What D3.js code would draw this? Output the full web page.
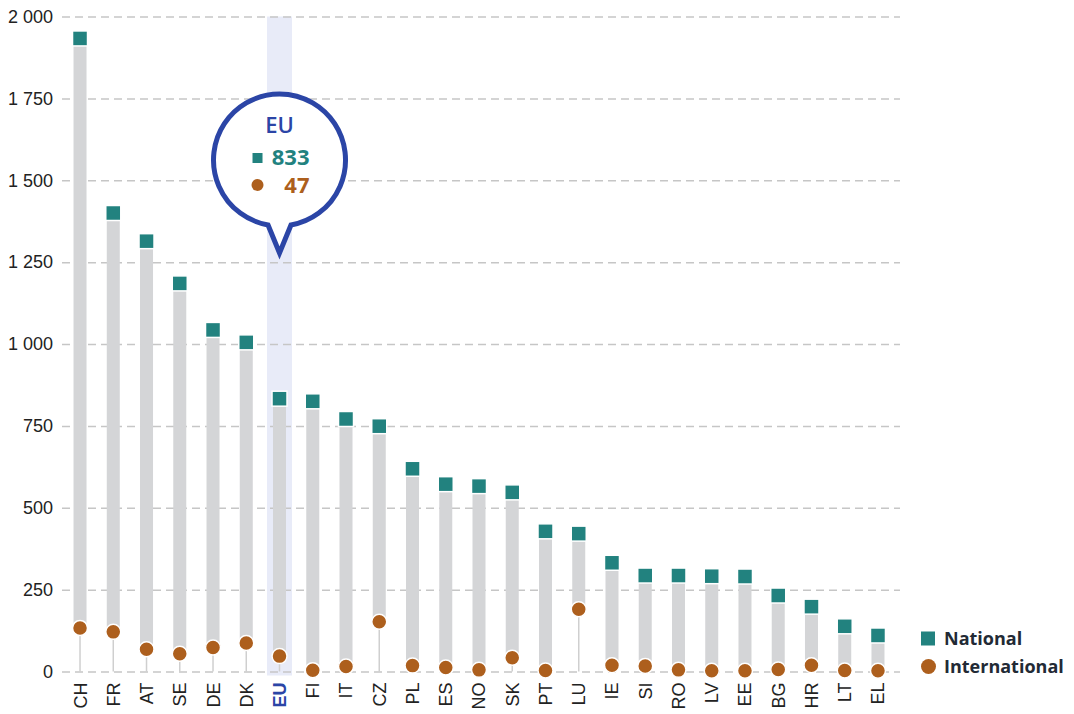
<!DOCTYPE html>
<html>
<head>
<meta charset="utf-8">
<script src="https://cdn.jsdelivr.net/npm/d3@7"></script>
<style>
  body { margin: 0; background: #fff; }
  svg { display: block; font-family: "Open Sans", "Noto Sans", sans-serif; }
</style>
</head>
<body>
<div id="chart"></div>
<script>
var countries = ["CH", "FR", "AT", "SE", "DE", "DK", "EU", "FI", "IT", "CZ", "PL", "ES", "NO",
    "SK", "PT", "LU", "IE", "SI", "RO", "LV", "EE", "BG", "HR", "LT", "EL"];
var national = [1933, 1400, 1314, 1185, 1043, 1005, 833, 825, 771, 749, 619, 572, 566,
    547, 428, 421, 332, 293, 293, 291, 290, 232, 198, 138, 110];
var international = [133, 121, 68, 54, 73, 87, 47, 4, 15, 152, 18, 12, 5,
    42, 3, 190, 19, 17, 5, 2, 2, 6, 19, 3, 2];
var yTicks = [0, 250, 500, 750, 1000, 1250, 1500, 1750, 2000];
var legendLabels = ["National", "International"];
var highlight = "EU";

var data = countries.map(function(c, i) {
    return { country: c, nat: national[i], intl: international[i] };
});

var W = 1074, H = 714;
var plotLeft = 62, plotRight = 900;

var svg = d3.select("#chart").append("svg")
    .attr("width", W)
    .attr("height", H);

var x = d3.scaleBand()
    .domain(countries)
    .range([63.4, 894.6]);

var y = d3.scaleLinear()
    .domain([0, 2000])
    .range([671.5, 16.5]);

var cx = function(d) { return x(d.country) + x.bandwidth() / 2; };

// highlight band for EU
svg.append("rect")
    .attr("x", x(highlight) + x.bandwidth() / 2 - 12.5)
    .attr("y", y(2000))
    .attr("width", 25)
    .attr("height", y(0) - y(2000) + 4)
    .attr("fill", "#e8ebf8");

// grid + y labels
var loc = d3.formatLocale({ decimal: ".", thousands: " ", grouping: [3], currency: ["", ""] });
var yAxis = svg.append("g")
    .attr("transform", "translate(" + plotLeft + ",0)")
    .call(d3.axisLeft(y)
        .tickValues(yTicks)
        .tickSize(-(plotRight - plotLeft))
        .tickPadding(9)
        .tickFormat(loc.format(",")));
yAxis.select(".domain").remove();
yAxis.selectAll("line")
    .attr("stroke", "#c6c6c6")
    .attr("stroke-width", 1.5)
    .attr("stroke-dasharray", "8,5");
yAxis.selectAll("text")
    .attr("fill", "#222")
    .style("font-size", "18px");

// stems from 0 to international
svg.selectAll(".stem")
    .data(data)
    .enter()
    .append("line")
    .attr("class", "stem")
    .attr("x1", cx).attr("x2", cx)
    .attr("y1", y(0))
    .attr("y2", function(d) { return y(d.intl); })
    .attr("stroke", "#cfcfcf")
    .attr("stroke-width", 1.5);

// range bars
svg.selectAll(".bar")
    .data(data)
    .enter()
    .append("rect")
    .attr("class", "bar")
    .attr("x", function(d) { return cx(d) - 6.5; })
    .attr("width", 13)
    .attr("y", function(d) { return y(d.nat); })
    .attr("height", function(d) { return y(d.intl) - y(d.nat); })
    .attr("fill", "#d4d5d7");

// international dots
svg.selectAll(".dot")
    .data(data)
    .enter()
    .append("circle")
    .attr("class", "dot")
    .attr("cx", cx)
    .attr("cy", function(d) { return y(d.intl); })
    .attr("r", 7.5)
    .attr("fill", "#ad5f1d")
    .attr("stroke", "#fff")
    .attr("stroke-width", 1.5);

// national squares
svg.selectAll(".sq")
    .data(data)
    .enter()
    .append("rect")
    .attr("class", "sq")
    .attr("x", function(d) { return cx(d) - 7.5; })
    .attr("y", function(d) { return y(d.nat) - 7.5; })
    .attr("width", 15)
    .attr("height", 15)
    .attr("fill", "#22827f")
    .attr("stroke", "#fff")
    .attr("stroke-width", 1.5);

// x labels
var xAxis = svg.append("g")
    .attr("transform", "translate(0," + y(0) + ")")
    .call(d3.axisBottom(x).tickSize(0));
xAxis.select(".domain").remove();
xAxis.selectAll("text")
    .attr("transform", "rotate(-90)")
    .attr("text-anchor", "end")
    .attr("x", -11)
    .attr("y", 0)
    .attr("dy", "0.36em")
    .style("font-size", "18px")
    .attr("fill", function(d) { return d === highlight ? "#2b45a6" : "#222"; })
    .style("font-weight", function(d) { return d === highlight ? "700" : "400"; });

// callout for EU
var eu = data[countries.indexOf(highlight)];
var ccx = cx(eu), ccy = 160, r = 66, tipY = 253;
var a = 10 * Math.PI / 180;
var p = d3.path();
p.moveTo(ccx - r * Math.sin(a), ccy + r * Math.cos(a));
p.arc(ccx, ccy, r, Math.PI / 2 + a, Math.PI / 2 - a + 2 * Math.PI, false);
p.lineTo(ccx, tipY);
p.closePath();
svg.append("path")
    .attr("d", p.toString())
    .attr("fill", "#fff")
    .attr("stroke", "#2b45a6")
    .attr("stroke-width", 5)
    .attr("stroke-linejoin", "miter");

svg.append("text")
    .attr("x", ccx)
    .attr("y", 133)
    .attr("text-anchor", "middle")
    .style("font-size", "22px")
    .style("font-weight", "600")
    .attr("fill", "#2b45a6")
    .text(eu.country);

svg.append("rect")
    .attr("x", ccx - 27).attr("y", 153)
    .attr("width", 10).attr("height", 10)
    .attr("fill", "#22827f");
svg.append("text")
    .attr("x", ccx + 30)
    .attr("y", 165)
    .attr("text-anchor", "end")
    .style("font-size", "22px")
    .style("font-weight", "700")
    .attr("fill", "#22827f")
    .text(eu.nat);

svg.append("circle")
    .attr("cx", ccx - 22).attr("cy", 185)
    .attr("r", 6)
    .attr("fill", "#ad5f1d");
svg.append("text")
    .attr("x", ccx + 30)
    .attr("y", 193)
    .attr("text-anchor", "end")
    .style("font-size", "22px")
    .style("font-weight", "700")
    .attr("fill", "#ad5f1d")
    .text(eu.intl);

// legend
var legend = svg.append("g").attr("transform", "translate(921,0)");
legend.append("rect")
    .attr("x", 0).attr("y", 631.5)
    .attr("width", 14).attr("height", 14)
    .attr("fill", "#22827f");
legend.append("circle")
    .attr("cx", 7.5).attr("cy", 666.5)
    .attr("r", 7.5)
    .attr("fill", "#ad5f1d");
legend.selectAll(".lt")
    .data(legendLabels)
    .enter()
    .append("text")
    .attr("class", "lt")
    .attr("x", 23)
    .attr("y", function(d, i) { return 645 + i * 28; })
    .style("font-size", "18px")
    .style("font-weight", "700")
    .attr("fill", "#222a35")
    .text(function(d) { return d; });
</script>
</body>
</html>
